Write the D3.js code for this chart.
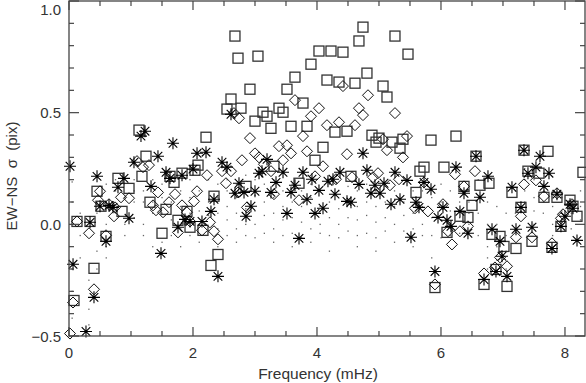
<!DOCTYPE html>
<html><head><meta charset="utf-8">
<script src="https://cdn.jsdelivr.net/npm/d3@7"></script>
<style>body{margin:0;background:#fff}svg{display:block}text{font-family:"Liberation Sans",Arial,sans-serif;fill:#333}</style>
</head><body><svg id="c" width="586" height="383"></svg>
<script>
const xTicks=[0,2,4,6,8];
const yTicks=[-0.5,0.0,0.5,1.0];
const yTickLabels=["−0.5","0.0","0.5","1.0"];
const xLabel="Frequency (mHz)";
const yLabel="EW−NS  σ  (pix)";

const squares=[[0.081,-0.341],[0.129,0.013],[0.339,0.013],[0.403,-0.197],[0.597,-0.054],[0.452,0.148],[0.516,0.081],[0.790,0.206],[0.855,0.058],[0.968,0.161],[1.129,0.422],[1.177,0.215],[1.242,0.305],[1.306,0.099],[1.500,-0.040],[1.565,0.067],[1.629,0.215],[1.694,0.188],[1.758,0.018],[1.823,0.229],[1.903,0.058],[1.952,-0.013],[2.032,0.242],[2.081,0.265],[2.161,-0.027],[2.210,0.390],[2.290,-0.184],[2.339,0.126],[2.403,-0.135],[2.548,0.516],[2.613,0.561],[2.677,0.843],[2.726,0.744],[2.774,0.520],[2.855,0.170],[2.919,0.605],[3.000,0.462],[3.048,0.753],[3.129,0.502],[3.194,0.484],[3.258,0.430],[3.306,0.260],[3.387,0.520],[3.452,0.502],[3.516,0.605],[3.581,0.439],[3.645,0.659],[3.710,0.184],[3.774,0.543],[3.839,0.439],[3.903,0.717],[3.968,0.287],[4.032,0.776],[4.097,0.345],[4.161,0.646],[4.226,0.776],[4.290,0.413],[4.355,0.637],[4.419,0.771],[4.484,0.417],[4.548,0.215],[4.613,0.632],[4.677,0.821],[4.742,0.883],[4.806,0.677],[4.887,0.399],[4.952,0.368],[5.000,0.386],[5.065,0.619],[5.129,0.570],[5.210,0.368],[5.258,0.843],[5.339,0.341],[5.387,0.381],[5.468,0.762],[5.597,0.143],[5.661,0.238],[5.726,0.256],[5.839,0.377],[5.903,-0.283],[6.048,0.256],[6.097,-0.036],[6.242,0.395],[6.306,0.036],[6.371,0.170],[6.435,0.031],[6.500,0.085],[6.565,0.305],[6.629,0.175],[6.694,-0.269],[6.774,0.184],[6.823,-0.045],[6.887,-0.202],[6.952,-0.054],[7.016,-0.099],[7.065,-0.278],[7.145,0.143],[7.210,-0.108],[7.290,0.076],[7.339,0.332],[7.403,0.238],[7.468,-0.076],[7.581,0.229],[7.661,0.121],[7.726,0.327],[7.790,-0.103],[7.871,0.121],[7.935,-0.009],[8.081,0.108],[8.129,0.081],[8.194,0.036],[8.290,0.233]];

const diamonds=[[0.016,-0.489],[0.065,-0.350],[0.129,0.013],[0.323,-0.040],[0.403,-0.291],[0.468,0.108],[0.500,0.148],[0.597,-0.049],[0.645,0.090],[0.726,0.036],[0.742,0.076],[0.839,0.121],[0.968,0.117],[1.097,0.283],[1.194,0.256],[1.290,0.265],[1.355,0.085],[1.403,0.063],[1.435,0.143],[1.516,0.054],[1.613,0.099],[1.710,0.135],[1.758,-0.036],[1.823,0.085],[1.903,0.054],[1.952,0.013],[2.016,0.103],[2.065,0.148],[2.145,-0.027],[2.226,0.220],[2.274,0.009],[2.339,-0.031],[2.403,-0.067],[2.468,0.238],[2.532,0.184],[2.613,0.238],[2.661,0.498],[2.742,0.475],[2.726,0.143],[2.790,0.287],[2.871,0.076],[2.919,0.386],[3.000,0.318],[3.065,0.300],[3.145,0.269],[3.258,0.238],[3.306,0.135],[3.387,0.350],[3.452,0.287],[3.516,0.354],[3.581,0.318],[3.645,0.556],[3.710,0.108],[3.774,0.395],[3.839,0.327],[3.903,0.484],[3.968,0.215],[4.032,0.520],[4.097,0.260],[4.161,0.444],[4.306,0.202],[4.355,0.457],[4.419,0.619],[4.484,0.314],[4.565,0.211],[4.613,0.444],[4.677,0.520],[4.742,0.489],[4.823,0.578],[4.903,0.211],[4.984,0.229],[5.065,0.381],[5.129,0.332],[5.177,0.175],[5.258,0.498],[5.323,0.202],[5.387,0.300],[5.452,0.395],[5.581,0.072],[5.726,0.188],[5.790,0.058],[5.903,-0.269],[6.032,0.090],[6.113,-0.031],[6.177,-0.090],[6.226,0.224],[6.306,-0.031],[6.371,0.170],[6.435,-0.009],[6.548,0.238],[6.694,-0.220],[6.871,-0.193],[6.952,-0.148],[7.065,-0.188],[7.210,-0.058],[7.290,0.036],[7.339,0.179],[7.468,-0.058],[7.532,0.197],[7.661,0.126],[7.790,-0.085],[7.871,0.139],[7.935,0.027],[7.968,0.045],[8.113,0.090]];

const asterisks=[[0.016,0.260],[0.065,-0.179],[0.274,-0.480],[0.339,0.009],[0.403,-0.327],[0.452,0.215],[0.500,0.081],[0.597,-0.076],[0.645,0.085],[0.710,0.076],[0.790,0.166],[0.887,0.206],[0.968,0.027],[1.048,0.278],[1.161,0.395],[1.226,0.417],[1.323,0.170],[1.435,0.305],[1.484,-0.130],[1.565,0.233],[1.629,0.206],[1.677,0.363],[1.758,-0.013],[1.823,0.220],[1.871,0.022],[1.952,0.013],[2.000,0.247],[2.065,0.318],[2.145,0.013],[2.210,0.323],[2.290,0.058],[2.339,0.112],[2.403,-0.233],[2.468,0.278],[2.548,0.256],[2.613,0.493],[2.677,0.139],[2.742,0.184],[2.823,0.143],[2.855,0.036],[2.935,0.081],[3.000,0.148],[3.065,0.229],[3.113,0.238],[3.194,0.291],[3.258,0.143],[3.339,0.188],[3.452,0.233],[3.516,0.049],[3.581,0.143],[3.645,0.175],[3.710,-0.063],[3.774,0.233],[3.839,0.112],[3.919,0.202],[3.968,0.049],[4.032,0.152],[4.097,0.072],[4.177,0.193],[4.258,0.202],[4.290,0.135],[4.371,0.233],[4.484,0.103],[4.548,0.099],[4.677,0.179],[4.742,0.318],[4.806,0.242],[4.871,0.139],[4.935,0.175],[5.016,0.139],[5.081,0.184],[5.194,0.090],[5.258,0.233],[5.339,0.112],[5.452,0.197],[5.516,-0.058],[5.597,0.099],[5.645,0.076],[5.726,0.188],[5.839,0.157],[5.903,-0.211],[5.952,0.031],[6.032,0.076],[6.097,0.018],[6.161,-0.009],[6.242,0.256],[6.306,0.058],[6.371,0.139],[6.435,-0.040],[6.565,0.305],[6.629,0.121],[6.694,-0.247],[6.758,0.215],[6.823,-0.022],[6.887,-0.211],[6.952,-0.076],[6.984,-0.143],[7.065,-0.233],[7.145,0.166],[7.210,-0.022],[7.290,0.076],[7.339,0.332],[7.403,0.229],[7.468,-0.013],[7.532,0.256],[7.597,0.305],[7.661,0.170],[7.742,0.229],[7.790,-0.108],[7.871,0.135],[7.935,-0.009],[8.000,0.036],[8.081,0.090],[8.129,0.072],[8.194,-0.072]];

const dotCols=[[0.05,[0.19,0.1,-0.2,-0.3,-0.42]],[0.18,[0.05,-0.05,-0.15]],[0.32,[-0.25,-0.38,-0.45]],[0.45,[0.1,0.05,-0.12,-0.2]],[0.6,[0.18,0.0,-0.1,-0.15]],[0.75,[0.2,0.15,0.05]],[0.9,[0.12,0.0,-0.05]],[1.05,[0.2,0.15,0.1,0.03]],[1.2,[0.15,0.1,0.0,-0.05]],[1.35,[0.2,0.1,0.05,-0.1]],[1.5,[0.18,0.12,0.05,-0.08]],[1.65,[0.2,0.1,0.02,-0.05]],[1.8,[0.15,0.08,-0.02,-0.1]],[1.95,[0.2,0.12,0.05,-0.05]],[2.1,[0.22,0.15,0.06,0.0,-0.08]],[2.25,[0.2,0.1,0.04,-0.03]],[2.4,[0.18,0.12,0.05,-0.02,-0.1]],[2.55,[0.2,0.15,0.08,0.02,-0.05]],[2.7,[0.18,0.12,0.05,-0.02,-0.08]],[2.85,[0.22,0.14,0.07,0.0,-0.05]],[3.0,[0.2,0.13,0.06,0.0,-0.06]],[3.15,[0.18,0.1,0.04,-0.04]],[3.3,[0.2,0.12,0.05,-0.02,-0.08]],[3.45,[0.15,0.08,0.02,-0.05]],[3.6,[0.18,0.1,0.03,-0.04,-0.1]],[3.75,[0.15,0.08,0.01,-0.06]],[3.9,[0.18,0.12,0.05,-0.02,-0.08]],[4.05,[0.15,0.08,0.0,-0.04]],[4.2,[0.18,0.1,0.03,-0.05,-0.12]],[4.35,[0.15,0.07,0.0,-0.06]],[4.5,[0.17,0.1,0.03,-0.03]],[4.65,[0.15,0.08,0.02,-0.05,-0.1]],[4.8,[0.18,0.1,0.04,-0.04]],[4.95,[0.15,0.08,0.01,-0.06,-0.12]],[5.1,[0.17,0.1,0.03,-0.03]],[5.25,[0.15,0.08,0.0,-0.08]],[5.4,[0.18,0.1,0.04,-0.03]],[5.55,[0.15,0.05,-0.02,-0.1]],[5.7,[0.15,0.08,0.0,-0.05]],[5.85,[0.12,0.03,-0.05,-0.15]],[6.0,[0.18,0.1,0.02,-0.06]],[6.15,[0.15,0.06,0.0,-0.05]],[6.3,[0.17,0.1,0.03,-0.04]],[6.45,[0.15,0.1,0.05,0.0]],[6.6,[0.2,0.12,0.05,-0.05]],[6.75,[0.1,0.0,-0.1,-0.15,-0.2]],[6.9,[0.08,0.0,-0.1,-0.16]],[7.05,[0.05,-0.05,-0.12,-0.2]],[7.2,[0.15,0.05,-0.03]],[7.35,[0.25,0.2,0.15,0.1]],[7.5,[0.2,0.12,0.06,0.0]],[7.65,[0.18,0.1,0.05]],[7.8,[0.15,0.08,0.0,-0.05]],[7.95,[0.12,0.06,0.0]],[8.1,[0.1,0.05,-0.02]],[8.25,[0.15,0.08,0.02]]];

const svg=d3.select("#c");
const L=69,R=585,T=1,B=336;
const x=d3.scaleLinear().domain([0,8.323]).range([L,R]);
const y=d3.scaleLinear().domain([-0.5,1.0]).range([B,T]);
const axCol="#444";

// dots
const dots=[];
dotCols.forEach(([f,vs])=>vs.forEach(v=>dots.push([f,v])));
svg.append("g").selectAll("rect").data(dots).join("rect")
 .attr("x",d=>x(d[0])-0.6).attr("y",d=>y(d[1])-0.6).attr("width",1.3).attr("height",1.3).attr("fill","#666");

const gPts=svg.append("g");
gPts.selectAll("rect.sq").data(squares).join("rect").attr("class","sq")
 .attr("x",d=>x(d[0])-5).attr("y",d=>y(d[1])-5).attr("width",10).attr("height",10)
 .attr("fill","none").attr("stroke","#333").attr("stroke-width",1.3);
gPts.selectAll("path.dm").data(diamonds).join("path").attr("class","dm")
 .attr("d",d=>{const cx=x(d[0]),cy=y(d[1]),r=5.5;return `M${cx},${cy-r}L${cx+r},${cy}L${cx},${cy+r}L${cx-r},${cy}Z`;})
 .attr("fill","none").attr("stroke","#111").attr("stroke-width",1);
gPts.selectAll("path.as").data(asterisks).join("path").attr("class","as")
 .attr("d",d=>{const cx=x(d[0]),cy=y(d[1]),r=6,q=4.3;return `M${cx-r},${cy}H${cx+r}M${cx},${cy-r}V${cy+r}M${cx-q},${cy-q}L${cx+q},${cy+q}M${cx-q},${cy+q}L${cx+q},${cy-q}`;})
 .attr("fill","none").attr("stroke","#000").attr("stroke-width",1.1);

// frame
svg.append("rect").attr("x",L).attr("y",T).attr("width",R-L).attr("height",B-T)
 .attr("fill","none").attr("stroke",axCol).attr("stroke-width",1.3);

// ticks
const xMinor=d3.range(0,8.33,0.5);
const yMinor=d3.range(-0.5,1.001,0.1);
const tk=svg.append("g").attr("stroke",axCol).attr("stroke-width",1.2);
xMinor.forEach(v=>{const major=xTicks.some(t=>Math.abs(t-v)<1e-6);const len=major?9:5;
 tk.append("line").attr("x1",x(v)).attr("x2",x(v)).attr("y1",B).attr("y2",B-len);
 tk.append("line").attr("x1",x(v)).attr("x2",x(v)).attr("y1",T).attr("y2",T+len);});
yMinor.forEach(v=>{const major=yTicks.some(t=>Math.abs(t-v)<1e-6);const len=major?10:5;
 tk.append("line").attr("y1",y(v)).attr("y2",y(v)).attr("x1",L).attr("x2",L+len);
 tk.append("line").attr("y1",y(v)).attr("y2",y(v)).attr("x1",R).attr("x2",R-len);});

// labels
svg.append("g").selectAll("text").data(xTicks).join("text")
 .attr("x",d=>x(d)).attr("y",358).attr("text-anchor","middle").attr("font-size",15).text(d=>d);
svg.append("g").selectAll("text").data(yTicks).join("text")
 .attr("x",61).attr("y",d=>Math.max(y(d)+5.5,15)).attr("text-anchor","end").attr("font-size",15).text((d,i)=>yTickLabels[i]);
svg.append("text").attr("x",318).attr("y",379).attr("text-anchor","middle").attr("font-size",15.5).text(xLabel);
svg.append("text").attr("transform","translate(17,176) rotate(-90)").attr("text-anchor","middle").attr("font-size",15).attr("xml:space","preserve").style("white-space","pre").text(yLabel);
</script></body></html>
